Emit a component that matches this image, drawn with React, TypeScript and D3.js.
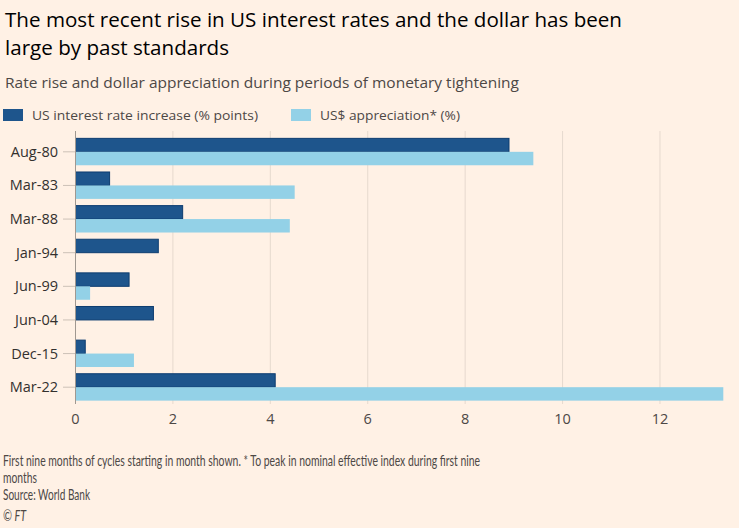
import React from "react";
import * as d3 from "d3";

const categories = ["Aug-80", "Mar-83", "Mar-88", "Jan-94", "Jun-99", "Jun-04", "Dec-15", "Mar-22"];
const rateIncrease = [8.9, 0.7, 2.2, 1.7, 1.1, 1.6, 0.2, 4.1];
const dollarAppreciation = [9.4, 4.5, 4.4, 0, 0.3, 0, 1.2, 13.3];
const xTicks = [0, 2, 4, 6, 8, 10, 12];
const seriesNames = ["US interest rate increase (% points)", "US$ appreciation* (%)"];

const W = 739, H = 528;
const BG = "#fff1e5";
const DARK = "#1e558c";
const LIGHT = "#93d1e7";
const FONT = "'Open Sans', Lato, sans-serif";
const NARROW = "Lato, sans-serif";

export default function App() {
  const left = 75.5, right = 723.3;
  const top = 135, bottom = 404;
  const x = d3.scaleLinear().domain([0, 13.3]).range([left, right]);
  const y = d3.scaleBand<string>().domain(categories).range([top, bottom]).paddingInner(0.2).paddingOuter(0.1);
  const bw = y.bandwidth() / 2;
  return (
    <svg width={W} height={H} style={{ position: "absolute", left: 0, top: 0, background: BG, fontFamily: FONT }}>
      <rect width={W} height={H} fill={BG} />
      <text x={5} y={27} fontSize={20} fill="#000" textLength={617} lengthAdjust="spacingAndGlyphs">The most recent rise in US interest rates and the dollar has been</text>
      <text x={5} y={55} fontSize={20} fill="#000" textLength={224} lengthAdjust="spacingAndGlyphs">large by past standards</text>
      <text x={5} y={88} fontSize={15} fill="#4d4845" textLength={514} lengthAdjust="spacingAndGlyphs">Rate rise and dollar appreciation during periods of monetary tightening</text>
      <rect x={3} y={109} width={20} height={12} fill={DARK} />
      <text x={32} y={120} fontSize={13.5} fill="#4d4845" textLength={226} lengthAdjust="spacingAndGlyphs">{seriesNames[0]}</text>
      <rect x={291} y={109} width={20} height={12} fill={LIGHT} />
      <text x={320} y={120} fontSize={13.5} fill="#4d4845" textLength={140} lengthAdjust="spacingAndGlyphs">{seriesNames[1]}</text>
      {xTicks.map((t) => (
        <g key={t}>
          <line x1={x(t)} x2={x(t)} y1={131} y2={bottom} stroke="#e6d9ce" strokeWidth={1} />
          <text x={x(t)} y={424} fontSize={14.5} textAnchor="middle" fill="#4d4845">{t}</text>
        </g>
      ))}
      {categories.map((c, i) => {
        const cy = (y(c) as number) + y.bandwidth() / 2;
        return (
          <g key={c}>
            <line x1={63} x2={left} y1={cy} y2={cy} stroke="#ccc1b7" />
            <text x={58} y={cy + 5} fontSize={14.5} textAnchor="end" fill="#33302e">{c}</text>
            <rect x={x(0)} y={cy - bw} width={x(rateIncrease[i]) - x(0)} height={bw} fill={DARK} stroke="#0d3d70" strokeWidth={1} />
            {dollarAppreciation[i] > 0 && (
              <rect x={x(0)} y={cy} width={x(dollarAppreciation[i]) - x(0)} height={bw} fill={LIGHT} />
            )}
          </g>
        );
      })}
      <line x1={left} x2={left} y1={131} y2={bottom} stroke="#a09890" />
      <g fontSize={15} fill="#4d4845" fontFamily={NARROW}>
        <text x={3} y={466} textLength={477} lengthAdjust="spacingAndGlyphs">First nine months of cycles starting in month shown. * To peak in nominal effective index during first nine</text>
        <text x={3} y={483} textLength={34} lengthAdjust="spacingAndGlyphs">months</text>
        <text x={3} y={500} textLength={87} lengthAdjust="spacingAndGlyphs">Source: World Bank</text>
        <text x={3} y={521} fontStyle="italic" textLength={23} lengthAdjust="spacingAndGlyphs">© FT</text>
      </g>
    </svg>
  );
}
